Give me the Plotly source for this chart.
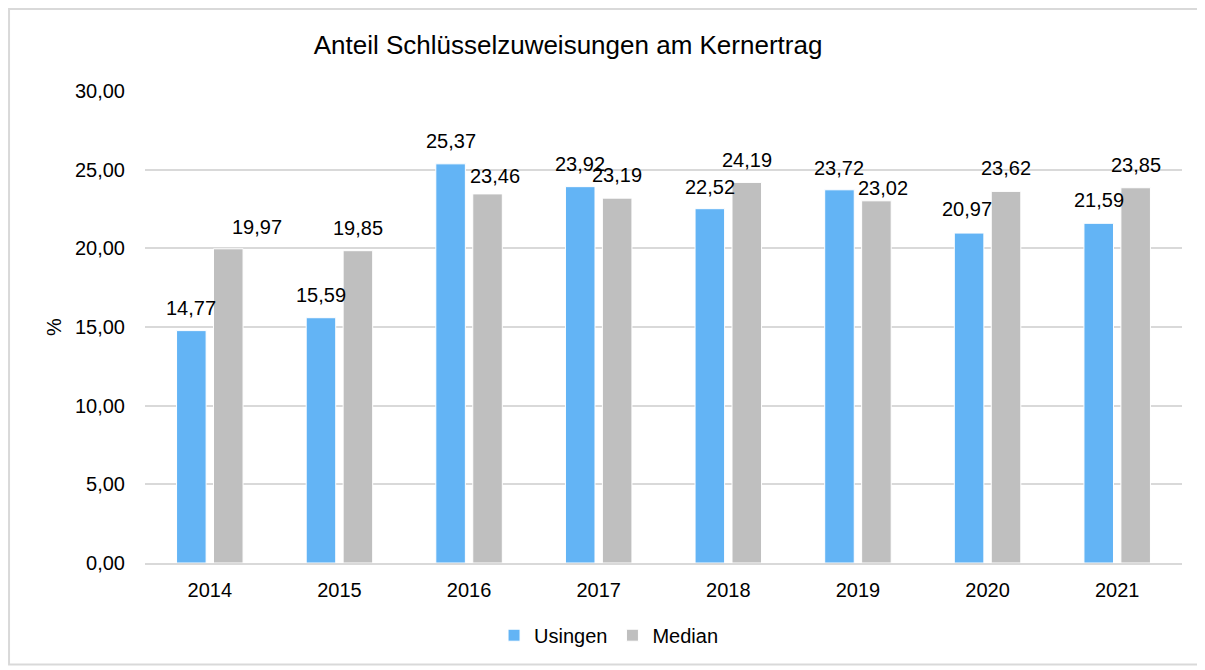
import plotly.graph_objects as go

years = ["2014", "2015", "2016", "2017", "2018", "2019", "2020", "2021"]
usingen = [14.77, 15.59, 25.37, 23.92, 22.52, 23.72, 20.97, 21.59]
median = [19.97, 19.85, 23.46, 23.19, 24.19, 23.02, 23.62, 23.85]
y_ticks = [0, 5, 10, 15, 20, 25, 30]

# label placement tweaks (pixels), mimicking the reference's label layout
u_dx = [0, 0, 0, 0, 0, 0, -2, 0]
u_dy = [23, 23, 23, 23, 22, 22, 24, 23]
m_dx = [29, 0, 7, 0, 0, 7, 0, 0]
m_dy = [22, 23, 18, 23, 22, 13, 23, 23]

FONT = "Liberation Sans, Arial, sans-serif"
OFF = 8  # page body margin

def de(v):
    return f"{v:.2f}".replace(".", ",")

fig = go.Figure()
fig.add_trace(go.Bar(name="Usingen", x=years, y=usingen, marker=dict(color="#63b4f5", line=dict(color="white", width=1))))
fig.add_trace(go.Bar(name="Median", x=years, y=median, marker=dict(color="#bfbfbf", line=dict(color="white", width=1))))

annotations = []
half = 18.5
for i, yr in enumerate(years):
    annotations.append(dict(x=i, y=usingen[i], text=de(usingen[i]), showarrow=False,
                            xshift=-half + u_dx[i], yshift=u_dy[i], yanchor="middle",
                            font=dict(size=20, color="#000000", family=FONT)))
    annotations.append(dict(x=i, y=median[i], text=de(median[i]), showarrow=False,
                            xshift=half + m_dx[i], yshift=m_dy[i], yanchor="middle",
                            font=dict(size=20, color="#000000", family=FONT)))

W, H = 1205 - OFF, 670 - OFF
plot_h = 472.5
fig.update_layout(
    width=W, height=H,
    margin=dict(l=145 - OFF, r=23, t=91 - OFF, b=106.5, autoexpand=False),
    paper_bgcolor="white", plot_bgcolor="white",
    font=dict(family=FONT, size=20, color="#000000"),
    title=dict(text="Anteil Schlüsselzuweisungen am Kernertrag", x=(568 - OFF) / W, xanchor="center",
               y=1 - (45 - OFF) / H, yanchor="middle", font=dict(size=26, color="#000000", family=FONT)),
    barmode="group", bargap=0.43, bargroupgap=0.2,
    showlegend=True,
    legend=dict(orientation="h", x=0.447, y=-0.153, xanchor="center", yanchor="middle",
                font=dict(size=20, color="#000000", family=FONT), bgcolor="rgba(0,0,0,0)"),
    annotations=annotations,
    shapes=[dict(type="rect", xref="paper", yref="paper", x0=-0.1311, x1=1.0164, y0=-0.2148,
                 y1=(563.5 - OFF - 1) / plot_h,
                 line=dict(color="#d9d9d9", width=2), fillcolor="rgba(0,0,0,0)", layer="below")],
)
fig.update_xaxes(type="category", range=[-0.5, len(years) - 0.5], showgrid=False, showline=True,
                 linecolor="#d9d9d9", linewidth=1.5,
                 ticks="", ticklabelstandoff=8, tickfont=dict(size=20))
fig.update_yaxes(range=[0, 30], tickvals=y_ticks, ticktext=[de(v) for v in y_ticks],
                 showgrid=True, gridcolor="#d9d9d9", gridwidth=1.5, zeroline=False, showline=False,
                 ticks="", ticklabelstandoff=19, tickfont=dict(size=20),
                 title=dict(text="%", standoff=7, font=dict(size=20)))

fig.write_html("out.html")
